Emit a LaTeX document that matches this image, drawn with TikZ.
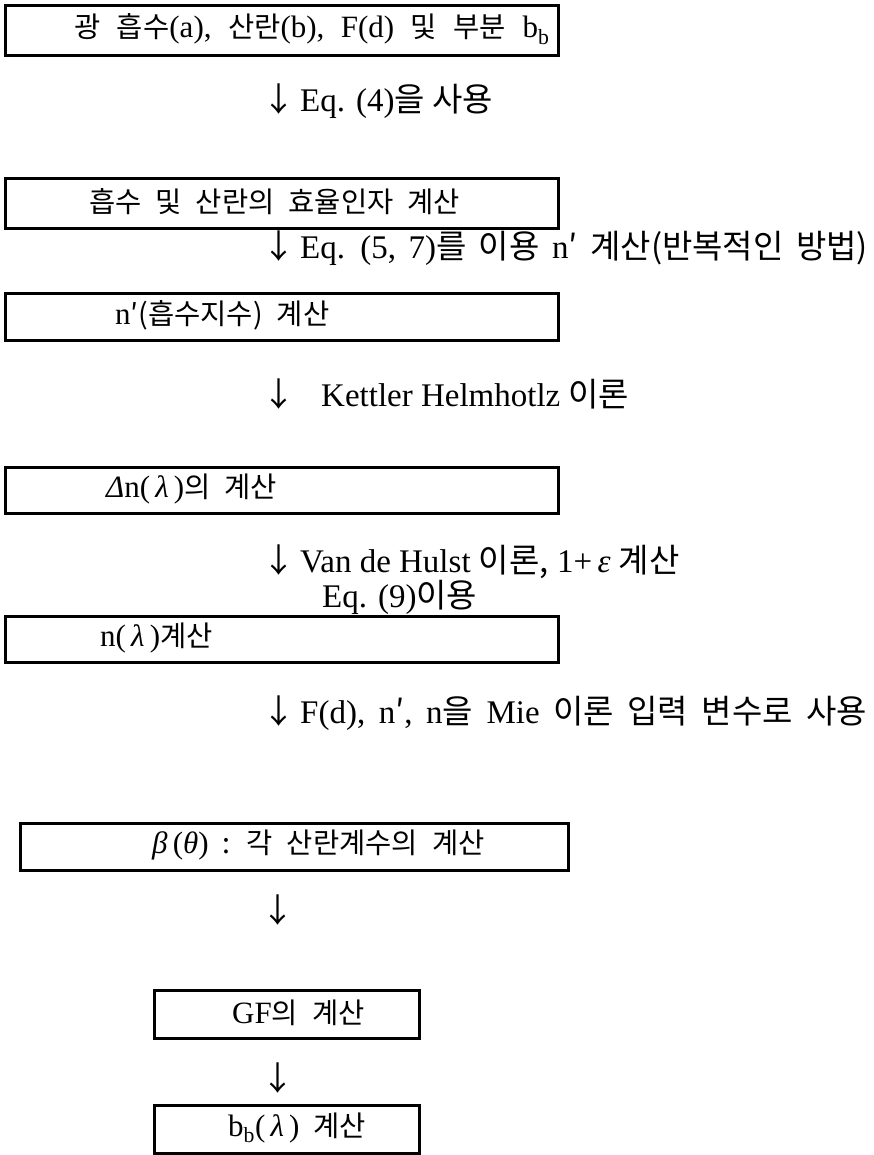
\documentclass[tikz,border=0pt]{standalone}
\usepackage{fontspec}
\setmainfont{Liberation Serif}
\newfontfamily\kr[Scale=0.92]{Noto Sans CJK KR}
\newfontfamily\kra[Scale=1.0]{Noto Sans CJK KR}
\newcommand\wsbox{\spaceskip 14pt\relax}
\newcommand\wsfirst{\spaceskip 16.5pt\relax}
\newcommand\wstwo{\spaceskip 12.5pt\relax}
\newcommand\wsfive{\spaceskip 13.5pt\relax}
\begin{document}
\begin{tikzpicture}[x=1pt,y=-1pt,
  box/.style={draw, line width=3pt, inner sep=0pt, anchor=north west},
  btxt/.style={anchor=west, inner sep=0pt, font=\fontsize{31}{35}\selectfont},
  atxt/.style={anchor=west, inner sep=0pt, font=\fontsize{33}{37}\selectfont}]
\useasboundingbox (0,0) rectangle (874,1155);
% boxes
\node[box, minimum width=553pt, minimum height=50pt] (b1) at (4,4) {};
\node[box, minimum width=553pt, minimum height=50pt] (b2) at (4,177) {};
\node[box, minimum width=553pt, minimum height=47pt] (b3) at (4,292) {};
\node[box, minimum width=553pt, minimum height=46pt] (b4) at (4,466) {};
\node[box, minimum width=553pt, minimum height=46pt] (b5) at (4,615) {};
\node[box, minimum width=548pt, minimum height=47pt] (b6) at (19,822) {};
\node[box, minimum width=265pt, minimum height=48pt] (b7) at (153,989) {};
\node[box, minimum width=265pt, minimum height=48pt] (b8) at (153,1104) {};
% box texts
\node[btxt] (t1) at (74,29) {\wsfirst{\kr 광 흡수}(a), {\kr 산란}(b), F(d) {\kr 및 부분} b\textsubscript{b}};
\node[btxt] (t2) at (89,202) {\wsbox\kr 흡수 및 산란의 효율인자 계산};
\node[btxt] (t3) at (115,315) {\wsbox n{\kr ′(흡수지수) 계산}};
\node[btxt] (t4) at (106,489) {\wsbox\textit{Δ}n(\,\textit{λ}\,){\kr 의 계산}};
\node[btxt] (t5) at (100,638) {\wsbox n(\,\textit{λ}\,){\kr 계산}};
\node[btxt] (t6) at (152,845) {\wsbox\textit{β}\,(\textit{θ}) {\kr : 각 산란계수의 계산}};
\node[btxt] (t7) at (232,1013) {\wsbox GF{\kr 의 계산}};
\node[btxt] (t8) at (228,1128) {\wsbox b\textsubscript{b}(\,\textit{λ}\,) {\kr 계산}};
% arrow labels
\node[atxt] (a1) at (262,101) {{\kra ↓}\hspace{5pt}Eq. (4){\kra 을 사용}};
\node[atxt] (a2) at (262,248) {\wstwo{\kra ↓}\hspace{5pt}Eq. (5, 7){\kra 를 이용} n{\kra ′ 계산(반복적인 방법)}};
\node[atxt] (a3) at (262,394) {{\kra ↓}\hspace{26pt}Kettler Helmhotlz {\kra 이론}};
\node[atxt] (a4) at (262,562) {{\kra ↓}\hspace{5pt}Van de Hulst {\kra 이론,} 1+\,\textit{ε} {\kra 계산}};
\node[atxt] (a4b) at (322,597) {Eq. (9){\kra 이용}};
\node[atxt] (a5) at (262,713) {\wsfive{\kra ↓}\hspace{5pt}F(d), n{\kra ′}, n{\kra 을} Mie {\kra 이론 입력 변수로 사용}};
\node[atxt] (a6) at (261,910) {\kra ↓};
\node[atxt] (a7) at (261,1078) {\kra ↓};
\end{tikzpicture}
\end{document}
